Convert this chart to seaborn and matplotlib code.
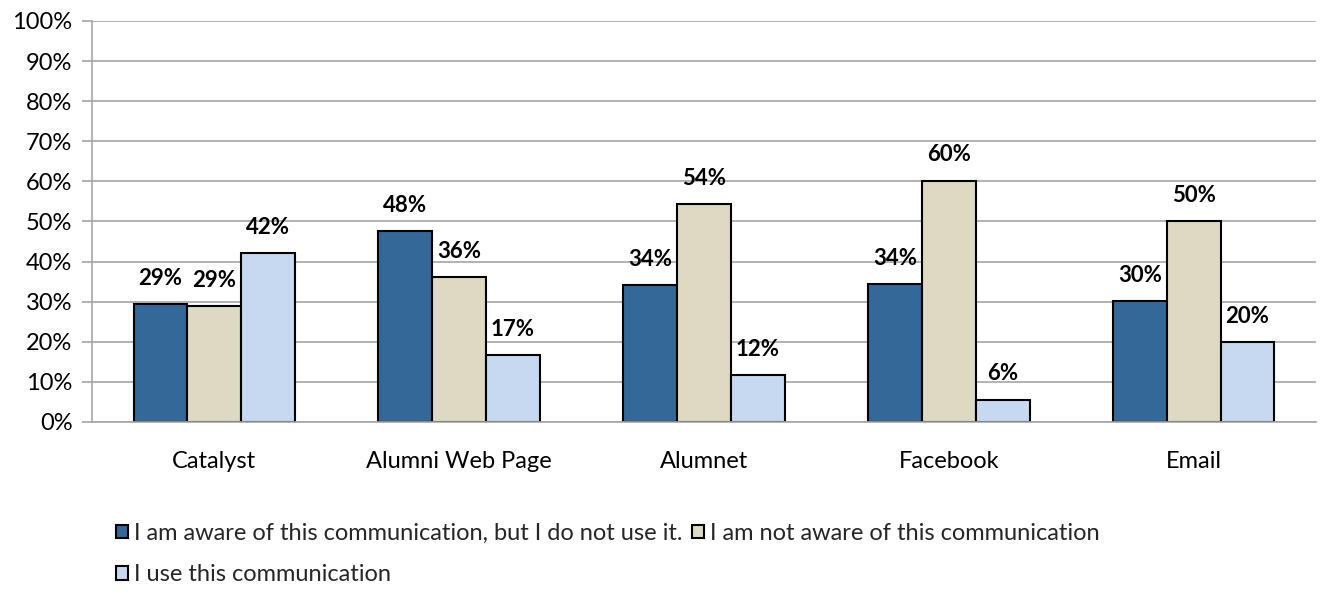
import matplotlib
matplotlib.use("Agg")
import matplotlib.pyplot as plt
import matplotlib.ticker as mticker
import seaborn as sns
import pandas as pd

# Data
channels = ["Catalyst", "Alumni Web Page", "Alumnet", "Facebook", "Email"]
aware_not_used = [29.3, 47.6, 34.1, 34.4, 30.1]
not_aware = [28.8, 36.1, 54.3, 60.2, 50.1]
use_it = [42.1, 16.6, 11.7, 5.6, 20.0]
series = ["I am aware of this communication, but I do not use it.",
          "I am not aware of this communication",
          "I use this communication"]
colors = ["#346899", "#DDD9C3", "#C6D9F1"]

rows = []
for vals, name in zip([aware_not_used, not_aware, use_it], series):
    for ch, v in zip(channels, vals):
        rows.append({"channel": ch, "series": name, "value": v})
df = pd.DataFrame(rows)

sns.set_style("white")
plt.rcParams["font.family"] = ["Lato", "DejaVu Sans"]

fig = plt.figure(figsize=(13.21, 5.93), dpi=100)
ax = fig.add_axes([0.0696, 0.2884, 0.9266, 0.6762])

sns.barplot(data=df, x="channel", y="value", hue="series", palette=colors,
            hue_order=series, order=channels, width=0.66, ax=ax,
            edgecolor="black", linewidth=1.5, saturation=1, legend=True)

# value labels above each bar
for cont in ax.containers:
    ax.bar_label(cont, labels=[f"{b.get_height():.0f}%" for b in cont],
                 padding=11, fontsize=16, fontweight="bold", color="black")

ax.set_ylim(0, 100)
ax.set_xlim(-0.5, len(channels) - 0.5)
ax.yaxis.set_major_locator(mticker.MultipleLocator(10))
ax.yaxis.set_major_formatter(mticker.FuncFormatter(lambda v, p: f"{v:.0f}%"))
ax.grid(axis="y", color="#A6A6A6", linewidth=1.2)
ax.set_axisbelow(True)
ax.set_xlabel("")
ax.set_ylabel("")

for s in ["top", "right"]:
    ax.spines[s].set_visible(False)
for s in ["left", "bottom"]:
    ax.spines[s].set_color("#A6A6A6")
    ax.spines[s].set_linewidth(1.2)

ax.tick_params(axis="y", left=True, length=7, color="#A6A6A6", width=1.2,
               labelsize=17, pad=7, labelcolor="black")
ax.tick_params(axis="x", which="major", length=0, labelsize=17, pad=21,
               labelcolor="black")
ax.set_xticks([i - 0.5 for i in range(len(channels) + 1)], minor=True)
ax.tick_params(axis="x", which="minor", length=7, color="#A6A6A6", width=1.2)

# legend: two items on the first row, third on the second
handles, labels = ax.get_legend_handles_labels()
ax.legend_.remove()
order = [0, 2, 1]
fig.legend([handles[i] for i in order], [labels[i] for i in order],
           loc="upper left", bbox_to_anchor=(0.088, 0.118), ncol=2,
           frameon=False, fontsize=17, handlelength=0.5, handleheight=0.5,
           handletextpad=0.25, columnspacing=0.4, labelspacing=0.86,
           borderaxespad=0, borderpad=0)

fig.savefig("out.png", dpi=100)
